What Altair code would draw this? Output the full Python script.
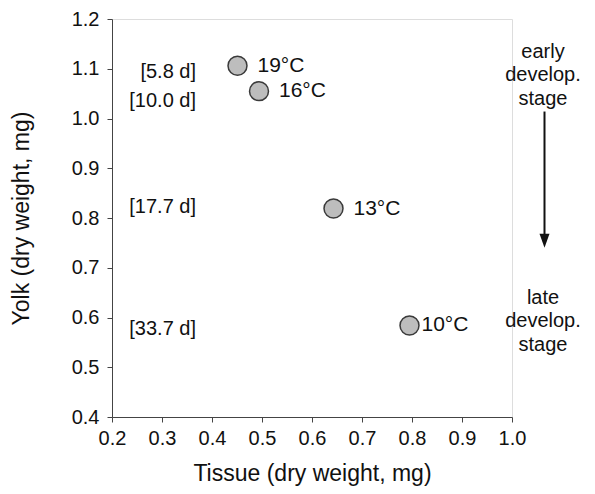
import altair as alt
import pandas as pd

temps = ["19°C", "16°C", "13°C", "10°C"]
tissue = [0.451, 0.494, 0.643, 0.795]
yolk = [1.106, 1.055, 0.819, 0.584]
days = ["[5.8 d]", "[10.0 d]", "[17.7 d]", "[33.7 d]"]
day_label_y = [1.093, 1.036, 0.822, 0.576]
day_label_x = 0.368

x_ticks = [0.2, 0.3, 0.4, 0.5, 0.6, 0.7, 0.8, 0.9, 1.0]
y_ticks = [0.4, 0.5, 0.6, 0.7, 0.8, 0.9, 1.0, 1.1, 1.2]

stage_x = 1.062
early_y = 1.134
late_y = 0.640
arrow_top = 1.014
arrow_tip = 0.740

FONT = "Liberation Sans"

df = pd.DataFrame({"temp": temps, "tissue": tissue, "yolk": yolk})
days_df = pd.DataFrame({"label": days, "y": day_label_y, "x": [day_label_x] * len(days)})

xs = alt.Scale(domain=[0.2, 1.0], nice=False, zero=False)
ys = alt.Scale(domain=[0.4, 1.2], nice=False, zero=False)

x_axis = alt.Axis(values=x_ticks, format=".1f", grid=False, title="Tissue (dry weight, mg)",
                  labelFontSize=20, titleFontSize=23, labelFont=FONT, titleFont=FONT,
                  labelColor="#111", titleColor="#111", domainColor="#444", tickColor="#444",
                  tickSize=5, labelPadding=6, titlePadding=14, titleFontWeight="normal",
                  labelFlush=False, labelOverlap=False)
y_axis = alt.Axis(values=y_ticks, format=".1f", grid=False, title="Yolk (dry weight, mg)",
                  labelFontSize=20, titleFontSize=23, labelFont=FONT, titleFont=FONT,
                  labelColor="#111", titleColor="#111", domainColor="#444", tickColor="#444",
                  tickSize=5, labelPadding=8, titlePadding=38, titleFontWeight="normal",
                  labelFlush=False, labelOverlap=False)

points = alt.Chart(df).mark_circle(size=360, color="#bdbdbd", stroke="#3a3a3a", strokeWidth=1.5, opacity=1).encode(
    x=alt.X("tissue:Q", scale=xs, axis=x_axis),
    y=alt.Y("yolk:Q", scale=ys, axis=y_axis),
)

labels_a = alt.Chart(df).transform_filter(alt.datum.temp != "10°C").mark_text(
    align="left", baseline="middle", dx=20, fontSize=21, font=FONT, color="#111").encode(
    x=alt.X("tissue:Q", scale=xs), y=alt.Y("yolk:Q", scale=ys), text="temp:N")
labels_b = alt.Chart(df).transform_filter(alt.datum.temp == "10°C").mark_text(
    align="left", baseline="middle", dx=12, fontSize=21, font=FONT, color="#111").encode(
    x=alt.X("tissue:Q", scale=xs), y=alt.Y("yolk:Q", scale=ys), text="temp:N")

day_text = alt.Chart(days_df).mark_text(
    align="right", baseline="middle", fontSize=20, font=FONT, color="#111").encode(
    x=alt.X("x:Q", scale=xs), y=alt.Y("y:Q", scale=ys), text="label:N")

stage_df = pd.DataFrame({
    "x": [stage_x, stage_x],
    "y": [early_y, late_y],
    "txt": [["early", "develop.", "stage"], ["late", "develop.", "stage"]],
})
stage_text = alt.Chart(stage_df).mark_text(
    align="center", baseline="middle", fontSize=20, font=FONT, color="#111", lineHeight=23.5).encode(
    x=alt.X("x:Q", scale=xs), y=alt.Y("y:Q", scale=ys), text="txt")

arrow_df = pd.DataFrame({"x": [stage_x + 0.003], "y1": [arrow_top], "y2": [arrow_tip + 0.012]})
shaft = alt.Chart(arrow_df).mark_rule(color="#111", strokeWidth=2).encode(
    x=alt.X("x:Q", scale=xs), y=alt.Y("y1:Q", scale=ys), y2="y2:Q")
head_df = pd.DataFrame({"x": [stage_x + 0.003], "y": [arrow_tip]})
head = alt.Chart(head_df).mark_point(
    shape="M-1,-2.8L1,-2.8L0,0Z", size=100, filled=True, color="#111", opacity=1).encode(
    x=alt.X("x:Q", scale=xs), y=alt.Y("y:Q", scale=ys))

chart = alt.layer(points, labels_a, labels_b, day_text, shaft, head, stage_text).properties(
    width=400, height=398,
    autosize=alt.AutoSizeParams(type="none"),
    padding={"left": 104, "top": 11, "right": 75, "bottom": 69},
).configure_view(stroke=None).configure(background="white")

chart.save("out.html", embed_options={"renderer": "svg", "actions": False})
